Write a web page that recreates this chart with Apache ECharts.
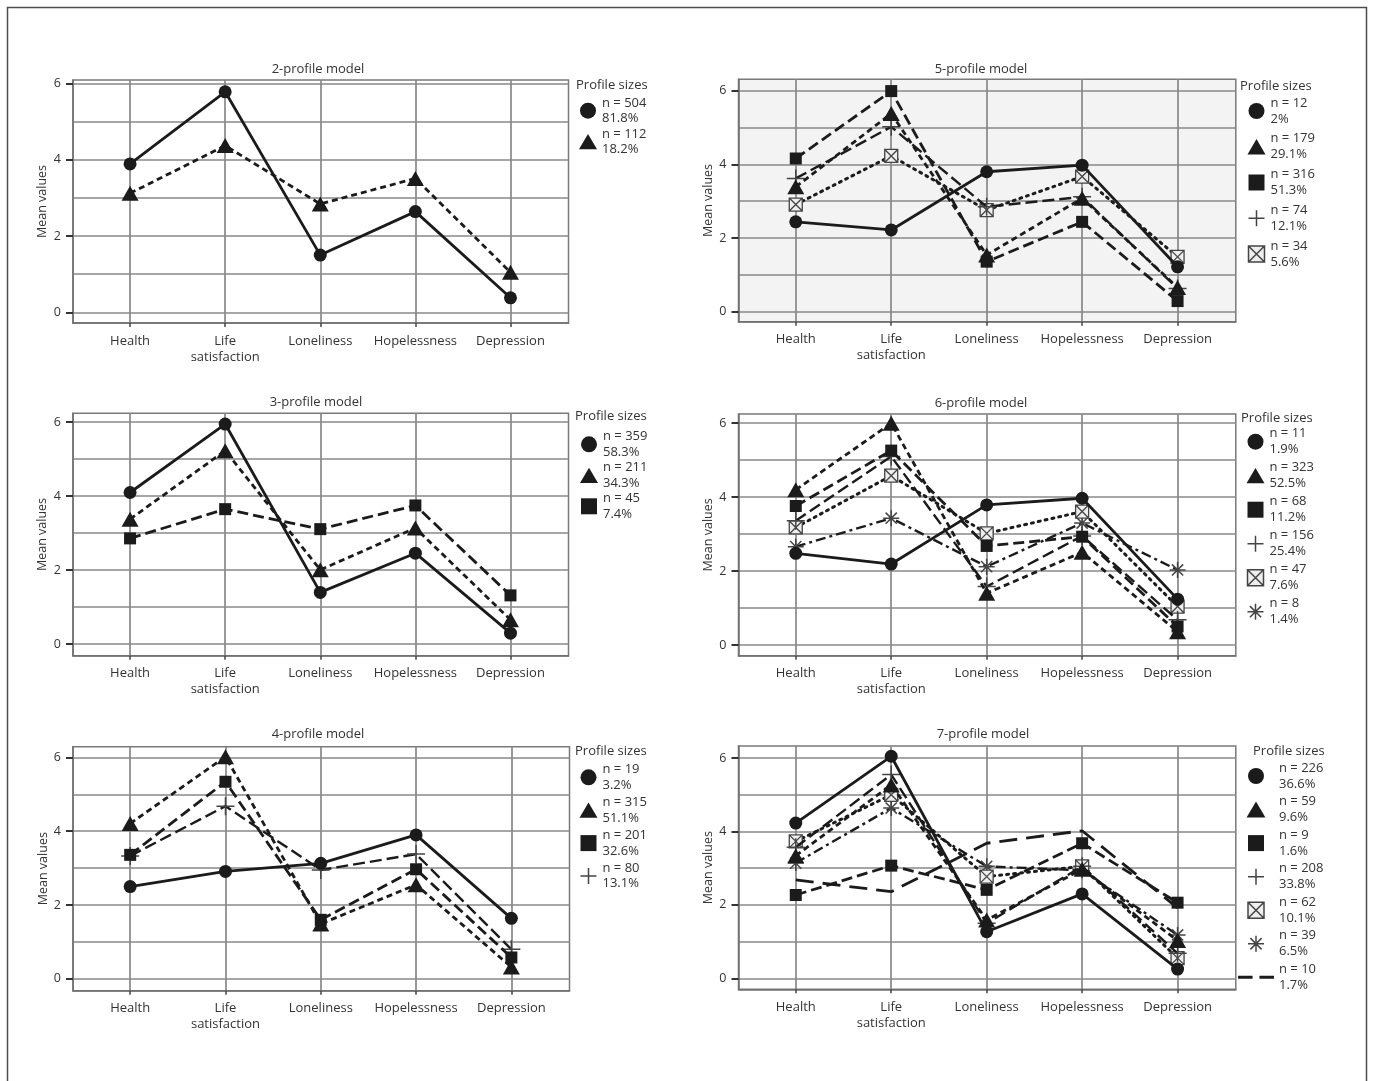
<!DOCTYPE html>
<html>
<head>
<meta charset="utf-8">
<title>Latent profile models</title>
<script src="https://cdn.jsdelivr.net/npm/echarts@6/dist/echarts.min.js"></script>
<style>
  html, body { margin: 0; padding: 0; background: #fff; }
  #chart { width: 1373px; height: 1081px; }
</style>
</head>
<body>
<div id="chart"></div>
<script>
// categories and axis values
const categories = ['Health', 'Life\nsatisfaction', 'Loneliness', 'Hopelessness', 'Depression'];
const yLabelValues = [0, 2, 4, 6];
const yGridValues = [0, 1, 2, 3, 4, 5, 6];
const xIndexValues = [0, 1, 2, 3, 4];

// 2-profile model
const p2Sizes = ['n = 504\n81.8%', 'n = 112\n18.2%'];
const p2Circle = [3.89, 5.78, 1.50, 2.64, 0.38];
const p2Triangle = [3.12, 4.37, 2.84, 3.51, 1.05];

// 3-profile model
const p3Sizes = ['n = 359\n58.3%', 'n = 211\n34.3%', 'n = 45\n7.4%'];
const p3Circle = [4.10, 5.95, 1.40, 2.46, 0.30];
const p3Triangle = [3.38, 5.23, 2.01, 3.14, 0.66];
const p3Square = [2.86, 3.65, 3.11, 3.75, 1.32];

// 4-profile model
const p4Sizes = ['n = 19\n3.2%', 'n = 315\n51.1%', 'n = 201\n32.6%', 'n = 80\n13.1%'];
const p4Circle = [2.50, 2.91, 3.13, 3.90, 1.64];
const p4Triangle = [4.21, 6.02, 1.49, 2.55, 0.32];
const p4Square = [3.36, 5.34, 1.60, 2.97, 0.58];
const p4Plus = [3.33, 4.68, 2.95, 3.38, 0.80];

// 5-profile model
const p5Sizes = ['n = 12\n2%', 'n = 179\n29.1%', 'n = 316\n51.3%', 'n = 74\n12.1%', 'n = 34\n5.6%'];
const p5Circle = [2.44, 2.22, 3.80, 3.98, 1.22];
const p5Triangle = [3.39, 5.38, 1.54, 3.08, 0.66];
const p5Square = [4.16, 5.99, 1.36, 2.44, 0.29];
const p5Plus = [3.62, 5.02, 2.85, 3.12, 0.63];
const p5BoxX = [2.91, 4.23, 2.76, 3.67, 1.49];

// 6-profile model
const p6Sizes = ['n = 11\n1.9%', 'n = 323\n52.5%', 'n = 68\n11.2%', 'n = 156\n25.4%', 'n = 47\n7.6%', 'n = 8\n1.4%'];
const p6Circle = [2.48, 2.19, 3.79, 3.97, 1.24];
const p6Triangle = [4.20, 6.00, 1.40, 2.51, 0.36];
const p6Square = [3.76, 5.26, 2.68, 2.93, 0.50];
const p6Plus = [3.36, 5.10, 1.58, 2.95, 0.68];
const p6BoxX = [3.18, 4.58, 3.02, 3.61, 1.04];
const p6Star = [2.66, 3.43, 2.12, 3.30, 2.03];

// 7-profile model
const p7Sizes = ['n = 226\n36.6%', 'n = 59\n9.6%', 'n = 9\n1.6%', 'n = 208\n33.8%', 'n = 62\n10.1%', 'n = 39\n6.5%', 'n = 10\n1.7%'];
const p7Circle = [4.23, 6.05, 1.27, 2.30, 0.25];
const p7Triangle = [3.34, 5.27, 1.59, 2.97, 1.03];
const p7Square = [2.27, 3.07, 2.41, 3.68, 2.06];
const p7Plus = [3.57, 5.55, 1.50, 3.05, 0.68];
const p7BoxX = [3.73, 5.00, 2.77, 3.05, 0.55];
const p7Star = [3.14, 4.64, 3.05, 2.94, 1.18];
const p7Dash = [2.68, 2.36, 3.68, 4.02, 1.92];

const INK = '#1b1b1b';
const TEXT = '#333';
const GRID = '#888';
const FONT = '"Open Sans", "Noto Sans", sans-serif';

const PLUS = 'path://M0,10 L20,10 M10,0 L10,20';
const BOXX = 'path://M0,0 L20,0 L20,20 L0,20 Z M0,0 L20,20 M20,0 L0,20';
const STAR = 'path://M10,0 L10,20 M0,10 L20,10 M3,3 L17,17 M17,3 L3,17';
const DASH = 'path://M0,0 L15,0 L15,3 L0,3 Z M22,0 L37,0 L37,3 L22,3 Z';
const TRI_ICON = 'path://M0,17 L10,0 L20,17 Z';
const SQ_ICON = 'path://M0,0 L14,0 L14,14 L0,14 Z';

// marker + line look for each profile kind
const looks = {
  circle: { symbol: 'circle', size: 13, dash: 'solid', width: 2.8, item: { color: INK } },
  triangle: { symbol: 'triangle', legendIcon: TRI_ICON, size: [17, 15], dash: [6, 4], width: 2.8, item: { color: INK } },
  square: { symbol: 'rect', legendIcon: SQ_ICON, size: 12, dash: [11, 5], width: 2.8, item: { color: INK } },
  plus: { symbol: PLUS, size: 18, dash: [12, 5], width: 2.4, item: { color: 'none', borderColor: '#444', borderWidth: 1.5 } },
  boxx: { symbol: BOXX, size: 13, dash: [2, 5], width: 3, item: { color: '#eee', borderColor: '#444', borderWidth: 1.3 } },
  star: { symbol: STAR, size: 16, dash: [10, 4, 3, 4], width: 2.4, item: { color: 'none', borderColor: '#444', borderWidth: 1.5 } },
  longdash: { symbol: 'none', legendIcon: DASH, size: 0, dash: [18, 9], width: 2.8, item: { color: INK } }
};

const panels = [
  { title: '2-profile model', titleX: 318, titleY: 63, box: [73, 80, 568.5, 323], y: [-0.28, 6.09], nameGap: 24, lh: 15.5,
    sizesAt: [576, 79], legend: { left: 579, top: 95.2, gap: 0, iw: 18 }, bg: '#fff',
    lines: [[p2Sizes[0], p2Circle, 'circle'], [p2Sizes[1], p2Triangle, 'triangle']] },
  { title: '3-profile model', titleX: 316, titleY: 396, box: [73, 413.3, 568.5, 655.7], y: [-0.31, 6.24], nameGap: 24, lh: 15.5,
    sizesAt: [575, 410], legend: { left: 580, top: 428.8, gap: 0, iw: 18 }, bg: '#fff',
    lines: [[p3Sizes[0], p3Circle, 'circle'], [p3Sizes[1], p3Triangle, 'triangle'], [p3Sizes[2], p3Square, 'square']] },
  { title: '4-profile model', titleX: 318, titleY: 728, box: [73, 746.7, 569.5, 990.7], y: [-0.32, 6.29], nameGap: 22, lh: 15.5,
    sizesAt: [575, 745], legend: { left: 578, top: 761.8, gap: 1.9, iw: 18 }, bg: '#fff',
    lines: [[p4Sizes[0], p4Circle, 'circle'], [p4Sizes[1], p4Triangle, 'triangle'], [p4Sizes[2], p4Square, 'square'], [p4Sizes[3], p4Plus, 'plus']] },
  { title: '5-profile model', titleX: 981, titleY: 63, box: [738.5, 79.3, 1235.8, 321.7], y: [-0.27, 6.31], nameGap: 24, lh: 16,
    sizesAt: [1240, 80], legend: { left: 1246, top: 95, gap: 3.75, iw: 18 }, bg: '#f3f3f3',
    lines: [[p5Sizes[0], p5Circle, 'circle'], [p5Sizes[1], p5Triangle, 'triangle'], [p5Sizes[2], p5Square, 'square'], [p5Sizes[3], p5Plus, 'plus'], [p5Sizes[4], p5BoxX, 'boxx']] },
  { title: '6-profile model', titleX: 981, titleY: 397, box: [738.5, 414, 1235.8, 655.7], y: [-0.29, 6.25], nameGap: 24, lh: 16,
    sizesAt: [1241, 412], legend: { left: 1245, top: 425.7, gap: 2, iw: 18 }, bg: '#fff',
    lines: [[p6Sizes[0], p6Circle, 'circle'], [p6Sizes[1], p6Triangle, 'triangle'], [p6Sizes[2], p6Square, 'square'], [p6Sizes[3], p6Plus, 'plus'], [p6Sizes[4], p6BoxX, 'boxx'], [p6Sizes[5], p6Star, 'star']] },
  { title: '7-profile model', titleX: 983, titleY: 728, box: [738.5, 746, 1235.8, 989.3], y: [-0.3, 6.33], nameGap: 24, lh: 16,
    sizesAt: [1253, 745], legend: { left: 1238, top: 760, gap: 1.55, iw: 36 }, bg: '#fff',
    lines: [[p7Sizes[0], p7Circle, 'circle'], [p7Sizes[1], p7Triangle, 'triangle'], [p7Sizes[2], p7Square, 'square'], [p7Sizes[3], p7Plus, 'plus'], [p7Sizes[4], p7BoxX, 'boxx'], [p7Sizes[5], p7Star, 'star'], [p7Sizes[6], p7Dash, 'longdash']] }
];

const xRange = [-0.6, 4.61];

const chart = echarts.init(document.getElementById('chart'), null, { renderer: 'canvas' });

const grid = [], xAxis = [], yAxis = [], series = [], legend = [];
const title = [];

panels.forEach((p, i) => {
  const [l, t, r, b] = p.box;
  grid.push({
    left: l, top: t, width: r - l, height: b - t,
    show: true, backgroundColor: p.bg, borderColor: '#7a7a7a', borderWidth: 1.5
  });

  xAxis.push({
    type: 'value', gridIndex: i, min: xRange[0], max: xRange[1],
    axisLine: { show: true, onZero: false, lineStyle: { color: '#6f6f6f', width: 1.5 } },
    axisTick: { show: true, customValues: xIndexValues, length: 4, lineStyle: { color: '#444', width: 1.5 } },
    axisLabel: {
      customValues: xIndexValues, formatter: v => categories[Math.round(v)],
      margin: 10, fontSize: 13, lineHeight: 16, color: TEXT, fontFamily: FONT
    },
    splitLine: { show: true, lineStyle: { color: GRID, width: 1.7 } }
  });

  // main value axis: labels, grid lines, axis name
  yAxis.push({
    type: 'value', gridIndex: i, position: 'left', min: p.y[0], max: p.y[1],
    name: 'Mean values', nameLocation: 'middle', nameGap: p.nameGap,
    nameTextStyle: { fontSize: 12.5, color: TEXT, fontFamily: FONT },
    axisLine: { show: true, onZero: false, lineStyle: { color: '#6f6f6f', width: 1.5 } },
    axisTick: { show: false, customValues: yGridValues },
    axisLabel: { customValues: yLabelValues, margin: 12, fontSize: 12.5, color: TEXT, fontFamily: FONT },
    splitLine: { show: true, lineStyle: { color: GRID, width: 1.7 } }
  });
  // second axis only for the short ticks at the labelled values
  yAxis.push({
    type: 'value', gridIndex: i, position: 'left', min: p.y[0], max: p.y[1],
    axisLine: { show: false, onZero: false },
    axisTick: { show: true, customValues: yLabelValues, length: 7, lineStyle: { color: '#333', width: 2 } },
    axisLabel: { show: false },
    splitLine: { show: false }
  });

  title.push({
    text: p.title, left: p.titleX, top: p.titleY, textAlign: 'center', padding: 0,
    textStyle: { fontSize: 13, fontWeight: 'normal', color: TEXT, fontFamily: FONT }
  });
  title.push({
    text: 'Profile sizes', left: p.sizesAt[0], top: p.sizesAt[1], padding: 0,
    textStyle: { fontSize: 13, fontWeight: 'normal', color: TEXT, fontFamily: FONT }
  });

  const legendData = [];
  p.lines.forEach(([name, values, kind], k) => {
    const look = looks[kind];
    series.push({
      name, type: 'line', xAxisIndex: i, yAxisIndex: 2 * i,
      data: values.map((v, j) => [j, v]),
      symbol: look.symbol, symbolSize: look.size, showSymbol: look.symbol !== 'none',
      itemStyle: look.item,
      lineStyle: { color: INK, width: look.width, type: look.dash, cap: kind === 'boxx' ? 'round' : 'butt' },
      z: 10 + (p.lines.length - k),
      silent: true, animation: false,
      emphasis: { disabled: true }
    });
    legendData.push({
      name,
      icon: look.legendIcon || look.symbol,
      itemStyle: look.item.borderColor
        ? { color: look.item.color, borderColor: look.item.borderColor, borderWidth: 1.5 }
        : { color: INK, borderWidth: 0 }
    });
  });

  legend.push({
    orient: 'vertical', left: p.legend.left, top: p.legend.top, padding: 0,
    itemWidth: p.legend.iw, itemHeight: 16, itemGap: p.legend.gap,
    symbolKeepAspect: true,
    selectedMode: false, data: legendData,
    textStyle: { fontSize: 13, lineHeight: p.lh, color: TEXT, fontFamily: FONT }
  });
});

chart.setOption({
  backgroundColor: '#fff',
  animation: false,
  textStyle: { fontFamily: FONT },
  title, grid, xAxis, yAxis, series, legend,
  graphic: [{
    type: 'rect', silent: true,
    shape: { x: 7.5, y: 7.5, width: 1359, height: 1090 },
    style: { fill: 'none', stroke: '#4d4d4d', lineWidth: 1.5 }
  }]
});
</script>
</body>
</html>
